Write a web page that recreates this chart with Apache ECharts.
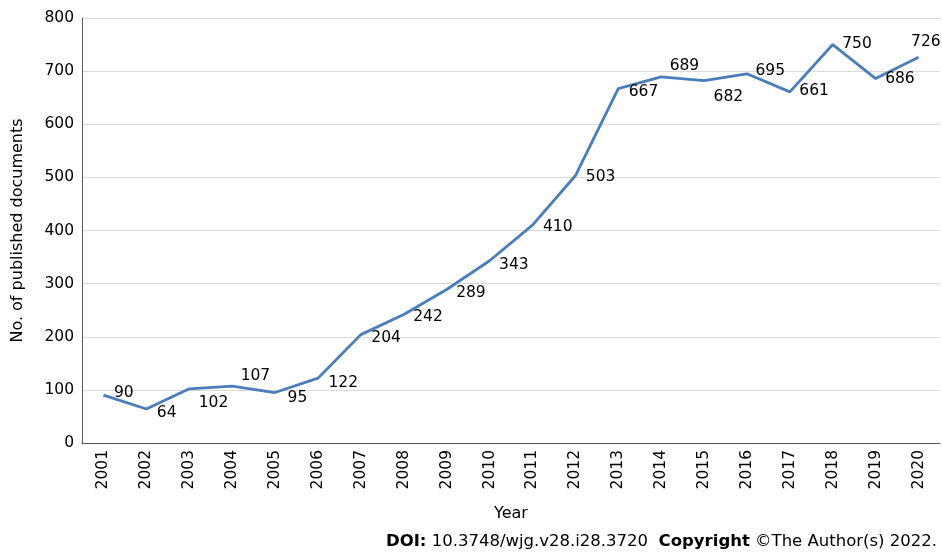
<!DOCTYPE html>
<html>
<head>
<meta charset="utf-8">
<script src="https://cdn.jsdelivr.net/npm/echarts@6/dist/echarts.min.js"></script>
<style>
html,body{margin:0;padding:0;background:#fff;}
#chart{width:942px;height:553px;}
</style>
</head>
<body>
<div id="chart"></div>
<script>
const years = ['2001','2002','2003','2004','2005','2006','2007','2008','2009','2010','2011','2012','2013','2014','2015','2016','2017','2018','2019','2020'];
const documents = [90,64,102,107,95,122,204,242,289,343,410,503,667,689,682,695,661,750,686,726];
const yTicks = [0,100,200,300,400,500,600,700,800];
// label nudges (style only)
const labelDy = [-2,4,14,-10,5,5,3,3,3,4,2,1,3,-11,16,-3,-1,-1,0,-15];
const labelDx = [1,1,0,-1,3,1,1,0,0,0,1,1,1,-1,0,-1,0,0,0,-17];

const FONT = 'DejaVu Sans, Verdana, sans-serif';
const chart = echarts.init(document.getElementById('chart'), null, {renderer:'canvas'});
chart.setOption({
  animation:false,
  backgroundColor:'#fff',
  grid:{left:82, right:2, top:18, bottom:110, containLabel:false, outerBoundsMode:'none'},
  xAxis:{
    type:'category', data:years, boundaryGap:true,
    name:'Year', nameLocation:'middle', nameGap:63,
    nameTextStyle:{fontFamily:FONT, fontSize:16, color:'#000'},
    axisLine:{lineStyle:{color:'#595959', width:1}},
    axisTick:{show:false},
    axisLabel:{rotate:90, fontFamily:FONT, fontSize:15.5, color:'#000', margin:7}
  },
  yAxis:{
    type:'value', min:yTicks[0], max:yTicks[yTicks.length-1], interval:100,
    name:'No. of published documents', nameLocation:'middle', nameGap:56,
    nameTextStyle:{fontFamily:FONT, fontSize:16, color:'#000'},
    axisLine:{show:true, lineStyle:{color:'#595959', width:1}},
    axisTick:{show:false},
    axisLabel:{fontFamily:FONT, fontSize:15.5, color:'#000', margin:8},
    splitLine:{lineStyle:{color:'#d9d9d9', width:1}}
  },
  series:[{
    type:'line',
    data:documents,
    symbol:'circle', symbolSize:1, showSymbol:true,
    lineStyle:{color:'#4a7ebb', width:2.8},
    itemStyle:{color:'rgba(0,0,0,0)'},
    label:{show:true, position:'right', distance:9, fontFamily:FONT, fontSize:15.5, color:'#000'},
    labelLayout:function(p){ return {dx:labelDx[p.dataIndex], dy:labelDy[p.dataIndex], hideOverlap:false}; }
  }],
  graphic:[{
    type:'text', right:5, bottom:3,
    style:{
      text:'{b|DOI:} 10.3748/wjg.v28.i28.3720  {b|Copyright} ©The Author(s) 2022.',
      rich:{b:{fontWeight:'bold', fontFamily:FONT, fontSize:16.5, fill:'#000'}},
      fontFamily:FONT, fontSize:16.5, fill:'#000'
    }
  }]
});
</script>
</body>
</html>
